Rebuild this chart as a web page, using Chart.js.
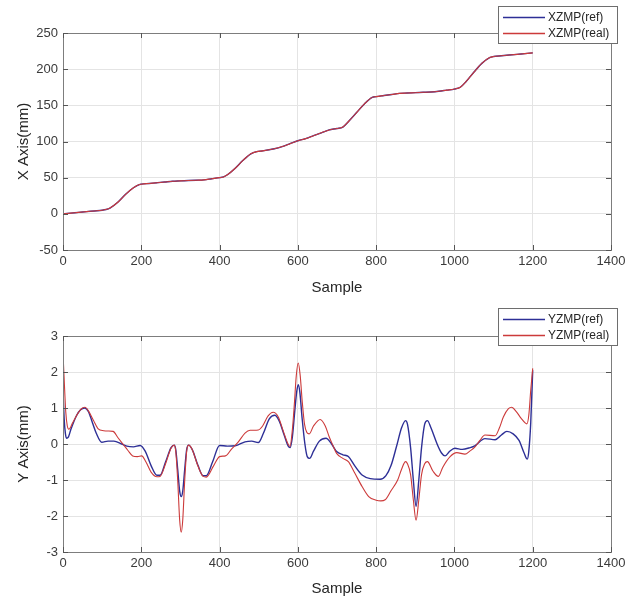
<!DOCTYPE html>
<html>
<head>
<meta charset="utf-8">
<script src="https://cdn.jsdelivr.net/npm/chart.js@4"></script>
<style>
  html, body { margin: 0; padding: 0; background: #ffffff; }
  #wrap { position: relative; width: 638px; height: 601px; overflow: hidden; }
  canvas { position: absolute; left: 0; }
  #c1 { top: 0; }
  #c2 { top: 300px; }
</style>
</head>
<body>
<div id="wrap">
  <canvas id="c1" width="638" height="300"></canvas>
  <canvas id="c2" width="638" height="301"></canvas>
</div>
<script>
// ---------- data ----------
const xTicks = [0, 200, 400, 600, 800, 1000, 1200, 1400];
const xzmpTicks = [-50, 0, 50, 100, 150, 200, 250];
const yzmpTicks = [-3, -2, -1, 0, 1, 2, 3];

const xzmpSamples = [0, 20, 40, 60, 80, 100, 110, 120, 140, 160, 180, 195, 200, 220, 240, 260, 280, 300, 320, 340, 360, 380, 400, 410, 420, 440, 460, 480, 495, 510, 540, 560, 580, 600, 620, 640, 660, 680, 700, 715, 730, 750, 770, 790, 800, 820, 840, 860, 880, 900, 920, 940, 960, 980, 1000, 1015, 1030, 1050, 1070, 1090, 1100, 1120, 1140, 1160, 1180, 1200];
const xzmpRef = [0, 1, 2, 3, 4, 5, 6, 8, 16, 27, 36, 40.5, 41, 42, 43, 44, 45, 45.5, 46, 46.5, 47, 48.5, 50, 51, 54, 63, 74, 83, 86, 87, 90, 93, 97, 101, 104, 108, 112, 116, 118, 120, 128, 140, 152, 161, 162, 163.5, 165, 166.5, 167, 167.5, 168, 168.5, 169.5, 171, 172.5, 175, 183, 196, 208, 216, 217.5, 218.5, 219.5, 220.5, 221.5, 222.5];
const xzmpReal = [0, 1, 2, 3, 4, 5, 6, 8, 16, 27, 36, 40.5, 41, 42, 43, 44, 45, 45.5, 46, 46.5, 47, 48.5, 50, 51, 54, 63, 74, 83, 86, 87, 90, 93, 97, 101, 104, 108, 112, 116, 118, 120, 128, 140, 152, 161, 162, 163.5, 165, 166.5, 167, 167.5, 168, 168.5, 169.5, 171, 172.5, 175, 183, 196, 208, 216, 217.5, 218.5, 219.5, 220.5, 221.5, 222.5];

const yzmpRefSamples = [0, 3, 6, 9, 14, 20, 35, 45, 55, 65, 75, 85, 99, 115, 130, 150, 163, 180, 197, 210, 225, 240, 248, 262, 276, 284, 288, 293, 298, 302, 306, 311, 316, 321, 330, 345, 358, 366, 382, 400, 420, 440, 465, 482, 499, 512, 527, 541, 552, 565, 575, 580, 586, 592, 597, 601, 605, 611, 618, 624, 630, 640, 655, 672, 685, 699, 715, 729, 745, 764, 785, 810, 825, 838, 852, 865, 875, 880, 888, 895, 902, 909, 916, 924, 931, 940, 955, 967, 976, 988, 1001, 1020, 1040, 1052, 1078, 1104, 1120, 1134, 1150, 1165, 1178, 1186, 1190, 1195, 1200];
const yzmpRef = [1.5, 0.7, 0.3, 0.16, 0.2, 0.4, 0.8, 0.95, 1.0, 0.9, 0.6, 0.3, 0.05, 0.08, 0.08, 0.0, -0.06, -0.08, -0.04, -0.2, -0.6, -0.87, -0.87, -0.5, -0.1, -0.03, -0.15, -0.7, -1.3, -1.46, -1.3, -0.7, -0.15, -0.03, -0.15, -0.6, -0.88, -0.88, -0.5, -0.04, -0.06, -0.05, 0.06, 0.08, 0.04, 0.3, 0.7, 0.8, 0.65, 0.25, -0.05, -0.1, 0.2, 0.9, 1.45, 1.65, 1.45, 0.7, 0.0, -0.35, -0.4, -0.2, 0.08, 0.16, 0.02, -0.21, -0.3, -0.35, -0.6, -0.86, -0.96, -0.98, -0.88, -0.6, -0.07, 0.45, 0.65, 0.55, -0.1, -1.0, -1.73, -1.0, -0.1, 0.55, 0.65, 0.45, 0.02, -0.25, -0.33, -0.2, -0.12, -0.15, -0.1, -0.05, 0.15, 0.12, 0.25, 0.35, 0.28, 0.1, -0.25, -0.42, -0.2, 0.6, 2.05];

const yzmpRealSamples = [0, 3, 7, 11, 15, 25, 38, 47, 56, 66, 78, 90, 104, 115, 128, 140, 153, 166, 178, 190, 201, 212, 225, 240, 248, 262, 276, 284, 288, 293, 298, 302, 306, 311, 316, 321, 330, 345, 358, 366, 385, 400, 415, 430, 448, 465, 478, 499, 510, 524, 537, 550, 563, 575, 580, 586, 591, 596, 601, 606, 611, 617, 623, 629, 640, 657, 670, 680, 690, 699, 715, 729, 745, 764, 781, 800, 812, 823, 838, 855, 865, 875, 880, 888, 895, 902, 909, 916, 924, 931, 945, 959, 970, 989, 1006, 1027, 1040, 1052, 1065, 1078, 1104, 1115, 1125, 1138, 1146, 1158, 1170, 1185, 1190, 1195, 1200];
const yzmpReal = [2.52, 1.8, 0.9, 0.5, 0.41, 0.6, 0.85, 0.98, 1.02, 0.9, 0.65, 0.42, 0.37, 0.36, 0.35, 0.18, 0.0, -0.18, -0.33, -0.35, -0.33, -0.5, -0.78, -0.91, -0.9, -0.55, -0.12, -0.03, -0.2, -1.0, -2.1, -2.45, -2.1, -1.0, -0.2, -0.03, -0.15, -0.62, -0.9, -0.92, -0.6, -0.35, -0.33, -0.15, 0.06, 0.3, 0.38, 0.39, 0.5, 0.78, 0.88, 0.75, 0.35, 0.0, -0.07, 0.4, 1.1, 1.9, 2.25, 1.9, 1.2, 0.55, 0.32, 0.28, 0.5, 0.68, 0.5, 0.2, -0.05, -0.26, -0.4, -0.49, -0.8, -1.18, -1.46, -1.56, -1.58, -1.55, -1.3, -1.0, -0.7, -0.49, -0.55, -0.85, -1.55, -2.12, -1.55, -0.85, -0.55, -0.49, -0.75, -0.9, -0.65, -0.35, -0.24, -0.28, -0.19, -0.09, 0.1, 0.25, 0.23, 0.45, 0.75, 0.98, 1.02, 0.9, 0.72, 0.56, 0.8, 1.5, 2.1];

const labels1 = ['XZMP(ref)', 'XZMP(real)'];
const labels2 = ['YZMP(ref)', 'YZMP(real)'];
// ---------------------------------------------------

const FONT = "'Liberation Sans', Arial, sans-serif";
const BLUE = '#2d2f96';
const RED = '#cc3a3a';

function pts(xs, ys) { return xs.map((x, i) => ({ x: x, y: ys[i] })); }

const boxPlugin = {
  id: 'boxTicks',
  afterDraw(chart) {
    const ctx = chart.ctx, a = chart.chartArea;
    const xs = chart.scales.x, ys = chart.scales.y;
    ctx.save();
    ctx.strokeStyle = '#7d7d7d';
    ctx.lineWidth = 1;
    ctx.strokeRect(Math.round(a.left) + 0.5, Math.round(a.top) + 0.5, Math.round(a.right - a.left), Math.round(a.bottom - a.top));
    ctx.strokeStyle = '#555555';
    ctx.beginPath();
    xs.ticks.forEach(t => {
      const p = Math.round(xs.getPixelForValue(t.value)) + 0.5;
      ctx.moveTo(p, a.bottom); ctx.lineTo(p, a.bottom - 5);
      ctx.moveTo(p, a.top); ctx.lineTo(p, a.top + 5);
    });
    ys.ticks.forEach(t => {
      const p = Math.round(ys.getPixelForValue(t.value)) + 0.5;
      ctx.moveTo(a.left, p); ctx.lineTo(a.left + 5, p);
      ctx.moveTo(a.right, p); ctx.lineTo(a.right - 5, p);
    });
    ctx.stroke();
    // legend box
    const lg = chart.options.plugins.boxTicks;
    const bx = lg.x, by = lg.y, bw = 119, bh = 37;
    ctx.fillStyle = '#ffffff';
    ctx.fillRect(bx, by, bw, bh);
    ctx.strokeStyle = '#6e6e6e';
    ctx.lineWidth = 1;
    ctx.strokeRect(bx + 0.5, by + 0.5, bw, bh);
    ctx.font = '12px ' + FONT;
    ctx.textBaseline = 'middle';
    ctx.textAlign = 'left';
    chart.data.datasets.forEach((ds, i) => {
      const yy = by + 11 + i * 16;
      ctx.strokeStyle = ds.borderColor;
      ctx.lineWidth = 1.3;
      ctx.beginPath();
      ctx.moveTo(bx + 5, yy + 0.5); ctx.lineTo(bx + 47, yy + 0.5);
      ctx.stroke();
      ctx.fillStyle = '#262626';
      ctx.fillText(ds.label, bx + 50, yy + 1);
    });
    ctx.restore();
  }
};

function makeChart(id, series, ticksY, minY, maxY, yTitle, padTop, xHeight, legendY) {
  return new Chart(document.getElementById(id), {
    type: 'line',
    data: {
      datasets: [
        { label: series[0].label, data: series[0].data, borderColor: BLUE, borderWidth: 1.4, pointRadius: 0, cubicInterpolationMode: 'monotone', order: 2 },
        { label: series[1].label, data: series[1].data, borderColor: RED, borderWidth: 1.1, pointRadius: 0, cubicInterpolationMode: 'monotone', order: 1 }
      ]
    },
    options: {
      responsive: false,
      animation: false,
      devicePixelRatio: 1,
      layout: { padding: { top: padTop, right: 27, left: 9, bottom: 0 } },
      plugins: {
        legend: { display: false },
        tooltip: { enabled: false },
        boxTicks: { x: 498, y: legendY }
      },
      scales: {
        x: {
          type: 'linear', min: 0, max: 1400,
          afterBuildTicks: s => { s.ticks = xTicks.map(v => ({ value: v })); },
          afterFit: s => { s.height = xHeight; },
          ticks: { color: '#3a3a3a', font: { family: FONT, size: 13 }, padding: 4, maxRotation: 0, callback: v => String(v) },
          grid: { color: '#e4e4e4', drawTicks: false },
          border: { display: false },
          title: { display: true, text: 'Sample', color: '#262626', font: { family: FONT, size: 15 }, padding: { top: 2, bottom: 3 } }
        },
        y: {
          type: 'linear', min: minY, max: maxY,
          afterBuildTicks: s => { s.ticks = ticksY.map(v => ({ value: v })); },
          afterFit: s => { s.width = 54; },
          ticks: { color: '#3a3a3a', font: { family: FONT, size: 13 }, padding: 5, callback: v => String(v) },
          grid: { color: '#e4e4e4', drawTicks: false },
          border: { display: false },
          title: { display: true, text: yTitle, color: '#262626', font: { family: FONT, size: 15 }, padding: { top: 6, bottom: 4 } }
        }
      }
    },
    plugins: [boxPlugin]
  });
}

makeChart('c1', [
  { label: labels1[0], data: pts(xzmpSamples, xzmpRef) },
  { label: labels1[1], data: pts(xzmpSamples, xzmpReal) }
], xzmpTicks, -50, 250, 'X Axis(mm)', 33, 50, 6);

makeChart('c2', [
  { label: labels2[0], data: pts(yzmpRefSamples, yzmpRef) },
  { label: labels2[1], data: pts(yzmpRealSamples, yzmpReal) }
], yzmpTicks, -3, 3, 'Y Axis(mm)', 36, 49, 8);
</script>
</body>
</html>
